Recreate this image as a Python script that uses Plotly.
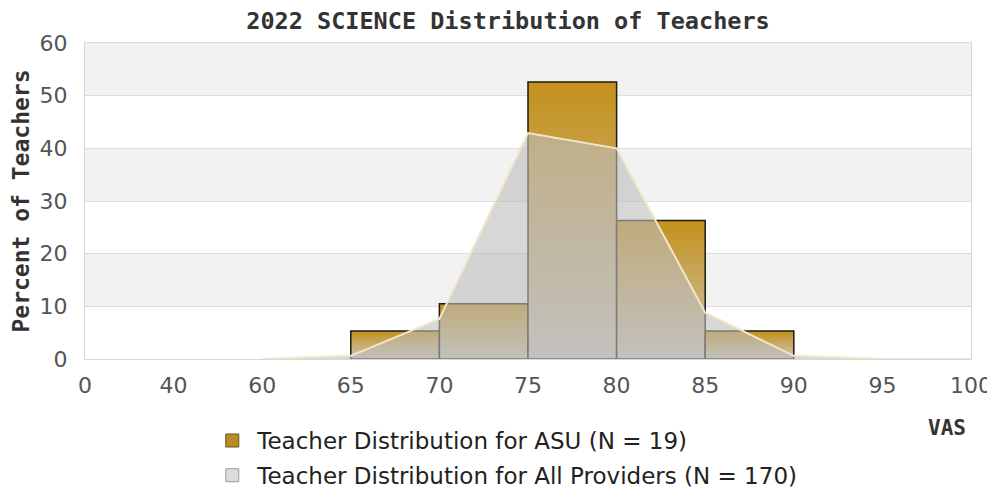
#!/usr/bin/env python3
# 2022 SCIENCE distribution of teachers: ASU histogram over the all-providers curve

import plotly.graph_objects as go

# x axis is an evenly spaced category scale
vas_labels = ['0', '40', '60', '65', '70', '75', '80', '85', '90', '95', '100']

# ASU teachers (N = 19), percent per 5-point bin, keyed by bin's lower edge
asu_bins = ['65', '70', '75', '80', '85']
asu_pct = [5.3, 10.5, 52.6, 26.3, 5.3]

# all providers (N = 170), percent at each label
all_labels = ['60', '65', '70', '75', '80', '85', '90', '95', '100']
all_pct = [0, 0.6, 7.6, 42.9, 40.0, 8.8, 0.6, 0, 0]

y_ticks = [0, 10, 20, 30, 40, 50, 60]

pos = {lab: i for i, lab in enumerate(vas_labels)}

GOLD = '#c4911a'
BAR_BOTTOM = '#cdc8bf'

fig = go.Figure()

# histogram bars as filled outlines so each one can carry a vertical gradient
for lab, val in zip(asu_bins, asu_pct):
    x0 = pos[lab]
    x1 = x0 + 1
    fig.add_trace(go.Scatter(
        x=[x0, x0, x1, x1, x0],
        y=[0, val, val, 0, 0],
        mode='lines',
        fill='toself',
        fillgradient=dict(type='vertical', start=0, stop=val,
                          colorscale=[[0, BAR_BOTTOM], [1, GOLD]]),
        line=dict(color='#1e1a14', width=1.5),
        showlegend=False,
        hoverinfo='skip',
    ))

# all-providers curve drawn on top, semi transparent
fig.add_trace(go.Scatter(
    x=[pos[l] for l in all_labels],
    y=all_pct,
    mode='lines',
    fill='tozeroy',
    fillcolor='rgba(188,188,188,0.6)',
    line=dict(color='#f3e6c8', width=2),
    showlegend=False,
    hoverinfo='skip',
))

# legend entries, one legend box per row so the rows can be spaced freely
fig.add_trace(go.Scatter(
    x=[None], y=[None], mode='markers',
    name='Teacher Distribution for ASU (N = 19)',
    marker=dict(symbol='square', size=13, color='#b88c1e',
                line=dict(color='#6b5420', width=1)),
    legend='legend',
))
fig.add_trace(go.Scatter(
    x=[None], y=[None], mode='markers',
    name='Teacher Distribution for All Providers (N = 170)',
    marker=dict(symbol='square', size=13, color='#dcdcdc',
                line=dict(color='#9a9a9a', width=1)),
    legend='legend2',
))

# alternating background bands
for lo in (10, 30, 50):
    fig.add_shape(type='rect', xref='paper', yref='y', x0=0, x1=1, y0=lo, y1=lo + 10,
                  fillcolor='#f2f2f2', line_width=0, layer='below')

legend_style = dict(
    x=0.138, xanchor='left', yanchor='top',
    font=dict(family='DejaVu Sans', size=23, color='#222222'),
    bgcolor='rgba(0,0,0,0)',
    itemwidth=40,
)

# page body has an 8px margin, so the figure is 8px smaller than the window
fig.update_layout(
    width=987,
    height=480,
    margin=dict(l=77, r=24, t=35, b=129, autoexpand=False),
    paper_bgcolor='white',
    plot_bgcolor='white',
    title=dict(text='<b>2022 SCIENCE Distribution of Teachers</b>',
               x=0.5066, xanchor='center', y=0.99, yanchor='top',
               font=dict(family='DejaVu Sans Mono', size=23.5, color='#333333')),
    xaxis=dict(
        range=[0, 10],
        tickvals=list(range(len(vas_labels))),
        ticktext=vas_labels,
        showgrid=False,
        zeroline=False,
        showline=True, mirror=True, linecolor='#d8d8d8', linewidth=1,
        ticks='',
        ticklabelstandoff=7,
        ticklabeloverflow='allow',
        automargin=False,
        tickfont=dict(family='DejaVu Sans', size=22, color='#555555'),
    ),
    yaxis=dict(
        range=[0, 60],
        tickvals=y_ticks,
        showgrid=True, gridcolor='#dddddd', gridwidth=1,
        zeroline=False,
        showline=True, mirror=True, linecolor='#d8d8d8', linewidth=1,
        ticks='',
        ticklabelstandoff=12,
        automargin=False,
        tickfont=dict(family='DejaVu Sans', size=22, color='#555555'),
        title=dict(text='<b>Percent of Teachers</b>', standoff=4,
                   font=dict(family='DejaVu Sans Mono', size=23, color='#333333')),
    ),
    legend=dict(legend_style, y=-0.19),
    legend2=dict(legend_style, y=-0.30),
    annotations=[dict(
        text='<b>VAS</b>', xref='paper', yref='paper', x=0.9966, y=-0.218,
        xanchor='right', yanchor='middle', showarrow=False,
        font=dict(family='DejaVu Sans Mono', size=21, color='#333333'),
    )],
)

fig.write_html("out.html")
